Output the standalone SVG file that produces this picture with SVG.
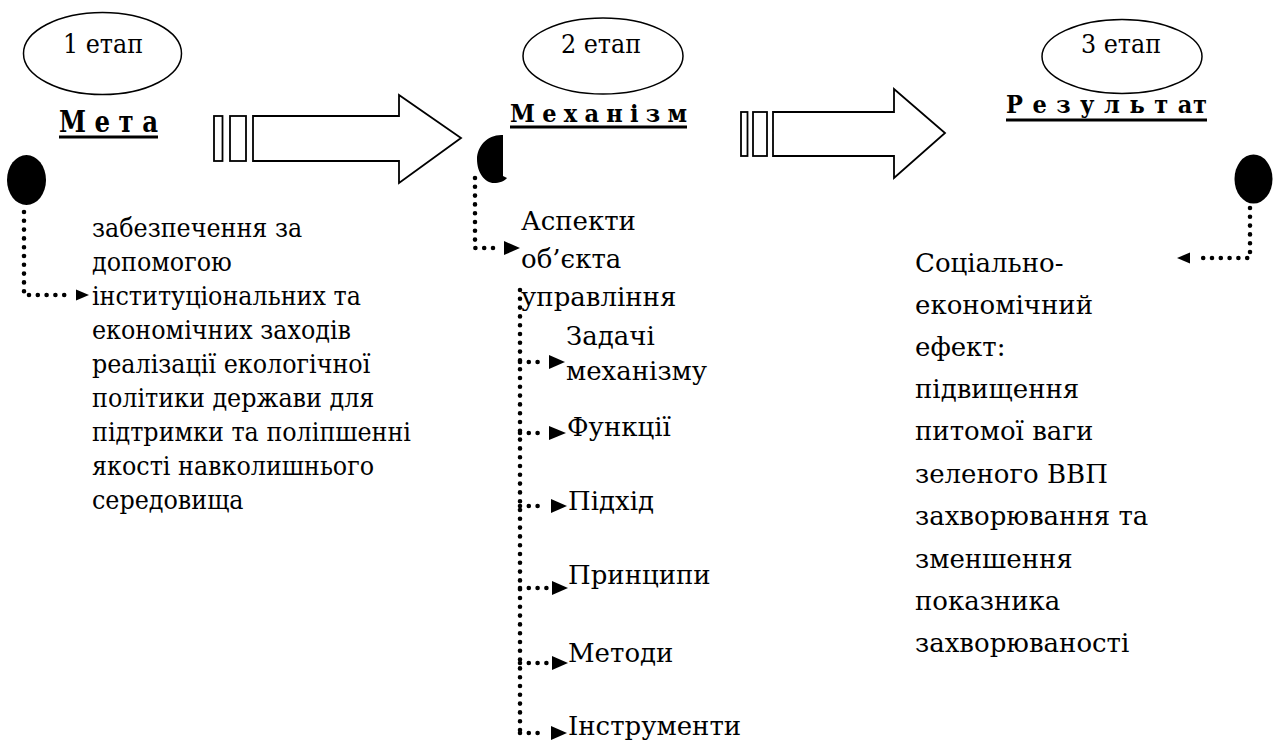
<svg xmlns="http://www.w3.org/2000/svg" width="1278" height="743" viewBox="0 0 1278 743">
  <style>
    .t { font-family: "DejaVu Serif", serif; font-size: 26px; fill: #000; }
    .c { font-family: "DejaVu Serif Condensed", "DejaVu Serif", serif; font-size: 26.5px; font-stretch: condensed; fill: #000; }
    .h { font-family: "DejaVu Serif Condensed", "DejaVu Serif", serif; font-stretch: condensed; font-weight: bold; fill: #000; }
    .ring { fill: #fff; stroke: #000; stroke-width: 1.5; }
    .blk { fill: #000; }
    .big { fill: #fff; stroke: #000; stroke-width: 1.8; stroke-linejoin: miter; }
    .dot { fill: none; stroke: #000; stroke-width: 4.6; stroke-linecap: round; stroke-dasharray: 0 8.8; }
    .ul { stroke: #000; stroke-width: 3; }
  </style>

  <rect width="1278" height="743" fill="#fff"/>

  <!-- stage 1 -->
  <g id="stage1">
    <ellipse class="ring" cx="102.5" cy="53.5" rx="79" ry="41"/>
    <text class="c" x="63" y="53">1 етап</text>
  </g>
  <g id="goal">
    <text class="h" x="59" y="132" font-size="30" textLength="99" lengthAdjust="spacingAndGlyphs">М е т а</text>
    <line class="ul" x1="59" y1="137" x2="158" y2="137"/>
  </g>
  <g id="goal-marker">
    <ellipse class="blk" cx="26.5" cy="180" rx="19.5" ry="25"/>
  </g>
  <g id="goal-text">
    <text class="c">
      <tspan x="92" y="237">забезпечення за</tspan>
      <tspan x="92" y="271">допомогою</tspan>
      <tspan x="92" y="305">інституціональних та</tspan>
      <tspan x="92" y="339">економічних заходів</tspan>
      <tspan x="92" y="373">реалізації  екологічної</tspan>
      <tspan x="92" y="407">політики держави для</tspan>
      <tspan x="92" y="441">підтримки та поліпшенні</tspan>
      <tspan x="92" y="475">якості навколишнього</tspan>
      <tspan x="92" y="509">середовища</tspan>
    </text>
  </g>

  <!-- transition arrow 1 -> 2 -->
  <g id="arrow1">
    <rect class="big" x="214" y="116" width="8.5" height="45"/>
    <rect class="big" x="230" y="116" width="16" height="45"/>
    <polygon class="big" points="253,116 399,116 399,95 461,138 399,183 399,161 253,161"/>
  </g>

  <!-- stage 2 -->
  <g id="stage2">
    <ellipse class="ring" cx="603" cy="56" rx="80" ry="38"/>
    <text class="c" x="561" y="53">2 етап</text>
  </g>
  <g id="mechanism">
    <text class="h" x="510" y="122" font-size="25" textLength="177">М е х а н і з м</text>
    <line class="ul" x1="510" y1="127" x2="687" y2="127"/>
  </g>
  <g id="mechanism-marker">
    <path class="blk" d="M503 135 C488 134 477 146 477 159 C477 173 485 183 494 183 C499 183 505 181 507 178 L503 176 Z"/>
  </g>
  <g id="aspects">
    <text class="t">
      <tspan x="521" y="230">Аспекти</tspan>
      <tspan x="521" y="268">об’єкта</tspan>
      <tspan x="521" y="306">управління</tspan>
    </text>
  </g>
  <g id="tasks">
    <text class="t">
      <tspan x="566" y="345">Задачі</tspan>
      <tspan x="566" y="380">механізму</tspan>
    </text>
  </g>
  <g id="functions"><text class="t" x="567" y="436">Функції</text></g>
  <g id="approach"><text class="t" x="568" y="510">Підхід</text></g>
  <g id="principles"><text class="t" x="568" y="584">Принципи</text></g>
  <g id="methods"><text class="t" x="568" y="662">Методи</text></g>
  <g id="tools"><text class="t" x="568" y="735">Інструменти</text></g>

  <!-- transition arrow 2 -> 3 -->
  <g id="arrow2">
    <rect class="big" x="741" y="112" width="6.5" height="44"/>
    <rect class="big" x="753" y="112" width="14" height="44"/>
    <polygon class="big" points="773,112 894,112 894,89 945,133 894,178 894,156 773,156"/>
  </g>

  <!-- stage 3 -->
  <g id="stage3">
    <ellipse class="ring" cx="1122" cy="56.5" rx="80" ry="37"/>
    <text class="c" x="1081" y="53">3 етап</text>
  </g>
  <g id="result">
    <text class="h" x="1006" y="113" font-size="25" textLength="201">Р е з у л ь т ат</text>
    <line class="ul" x1="1006" y1="120" x2="1207" y2="120"/>
  </g>
  <g id="result-marker">
    <ellipse class="blk" cx="1253.5" cy="179" rx="19" ry="24.5"/>
  </g>
  <g id="result-text">
    <text class="t">
      <tspan x="915" y="272">Соціально-</tspan>
      <tspan x="915" y="314">економічний</tspan>
      <tspan x="915" y="356">ефект:</tspan>
      <tspan x="915" y="398">підвищення</tspan>
      <tspan x="915" y="440">питомої  ваги</tspan>
      <tspan x="915" y="483">зеленого ВВП</tspan>
      <tspan x="915" y="525">захворювання та</tspan>
      <tspan x="915" y="568">зменшення</tspan>
      <tspan x="915" y="610">показника</tspan>
      <tspan x="915" y="652">захворюваності</tspan>
    </text>
  </g>

  <!-- dotted connectors -->
  <g id="connectors">
    <path class="dot" d="M24 212 V295 H70"/>
    <polygon class="blk" points="76,289.5 89,295 76,300.5"/>

    <path class="dot" d="M475 178 V248 H497"/>
    <polygon class="blk" points="504,241 520,248 504,255"/>

    <path class="dot" d="M520 290 V733"/>
    <path class="dot" d="M520 362 H546"/>
    <polygon class="blk" points="549,355 565,362 549,369"/>
    <path class="dot" d="M520 433 H546"/>
    <polygon class="blk" points="549,426 566,433 549,440"/>
    <path class="dot" d="M520 506 H546"/>
    <polygon class="blk" points="551,499 567,506 551,513"/>
    <path class="dot" d="M520 588 H548"/>
    <polygon class="blk" points="552,581 568,588 552,595"/>
    <path class="dot" d="M520 663 H548"/>
    <polygon class="blk" points="552,656 568,663 552,670"/>
    <path class="dot" d="M520 733 H546"/>
    <polygon class="blk" points="551,726 567,733 551,740"/>

    <path class="dot" d="M1250 208 V258 H1196"/>
    <polygon class="blk" points="1190,252.5 1177,258 1190,263.5"/>
  </g>
</svg>
